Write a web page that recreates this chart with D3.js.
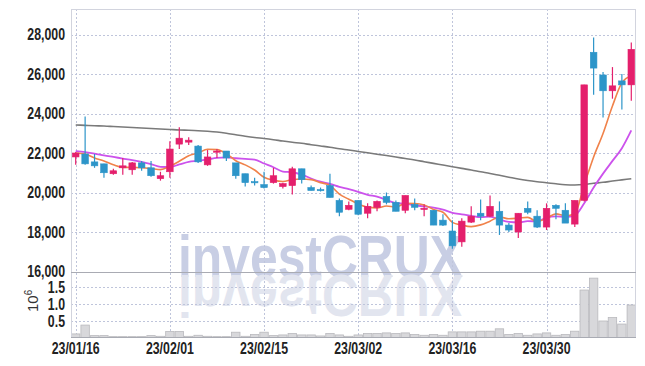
<!DOCTYPE html>
<html>
<head>
<meta charset="utf-8">
<script src="https://cdn.jsdelivr.net/npm/d3@7"></script>
<style>
  body { margin: 0; background: #fff; }
</style>
</head>
<body>
<div class="canvas"></div>
<script>
// trading days shown
const dates = [
  '2023-01-16','2023-01-17','2023-01-18','2023-01-19','2023-01-20','2023-01-25','2023-01-26','2023-01-27','2023-01-30','2023-01-31',
  '2023-02-01','2023-02-02','2023-02-03','2023-02-06','2023-02-07','2023-02-08','2023-02-09','2023-02-10','2023-02-13','2023-02-14',
  '2023-02-15','2023-02-16','2023-02-17','2023-02-20','2023-02-21','2023-02-22','2023-02-23','2023-02-24','2023-02-27','2023-02-28',
  '2023-03-02','2023-03-03','2023-03-06','2023-03-07','2023-03-08','2023-03-09','2023-03-10','2023-03-13','2023-03-14','2023-03-15',
  '2023-03-16','2023-03-17','2023-03-20','2023-03-21','2023-03-22','2023-03-23','2023-03-24','2023-03-27','2023-03-28','2023-03-29',
  '2023-03-30','2023-03-31','2023-04-03','2023-04-04','2023-04-05','2023-04-06','2023-04-07','2023-04-10','2023-04-11','2023-04-12'
];

const open = [21800,21950,21550,21450,20950,21250,21150,21500,21250,20700,
  21050,22450,22550,22350,21400,22050,22100,21500,20950,20550,
  20400,20500,20300,20350,21200,20250,20150,20350,19600,19150,
  19600,18950,19250,19800,19500,19100,19400,19150,19100,18600,
  18050,17500,18500,18950,18800,19050,18350,18000,19200,18800,
  18250,19350,19100,18400,19600,27100,25950,25150,25650,25450];
const high = [22050,23850,21950,21450,21200,21750,21550,21600,21600,21050,
  22600,23300,22800,22400,22150,22200,22100,21500,20950,20750,
  21050,21250,20500,21300,21200,20350,20250,20950,19700,19550,
  19600,19450,19600,20000,19600,19850,19700,19400,19100,18900,
  18600,18700,19300,19650,19850,19550,18450,18950,19550,19100,
  19450,19400,19450,19600,25450,27850,26100,26350,26000,27600];
const low = [21400,21400,21250,20750,20900,20900,20900,21100,20800,20600,
  20750,22200,22400,21500,21350,21750,21600,20700,20300,20350,
  20200,20450,20200,19900,20450,20100,20050,19750,18800,19100,
  18850,18700,19050,19400,19050,18950,19100,18800,18350,18300,
  17150,17250,18450,18600,18750,17850,18000,17700,18900,18200,
  18100,18650,18450,18250,19550,24950,23800,24750,24200,24650];
const close = [22000,21450,21350,21000,21100,21350,21500,21250,20850,20850,
  22200,22750,22650,21550,21800,22100,21750,20850,20500,20500,
  20250,20850,20450,21200,20650,20100,20100,19750,19000,19350,
  18900,19300,19550,19500,19050,19850,19250,19200,18350,18350,
  17300,18550,18800,18800,19300,18350,18100,18950,19000,18250,
  19200,19200,18450,19600,25450,26300,25150,25400,25450,27250];

// volume, millions of shares
const volume = [0.12,0.38,0.07,0.07,0.04,0.04,0.04,0.04,0.07,0.05,
  0.19,0.19,0.05,0.08,0.05,0.04,0.04,0.17,0.05,0.10,
  0.17,0.07,0.09,0.13,0.09,0.09,0.06,0.13,0.09,0.05,
  0.09,0.13,0.13,0.15,0.13,0.15,0.10,0.08,0.10,0.08,
  0.18,0.18,0.18,0.20,0.20,0.27,0.10,0.13,0.08,0.12,
  0.15,0.08,0.10,0.20,1.41,1.76,0.50,0.60,0.41,0.97];

// moving averages
const ma5 = [22000,21950,21750,21600,21400,21270,21270,21250,21210,21160,
  21330,21580,21860,22000,22190,22170,21970,21610,21400,21140,
  20770,20620,20560,20650,20680,20650,20500,20360,19920,19660,
  19420,19260,19220,19320,19260,19450,19440,19370,19140,19000,
  18490,18350,18270,18360,18550,18760,18670,18700,18740,18530,
  18700,18920,18820,18940,20380,21800,22990,24380,25550,25910];
const ma10 = [22090,22040,21970,21880,21800,21720,21640,21550,21440,21300,
  21290,21420,21550,21605,21675,21750,21775,21735,21700,21665,
  21470,21280,21060,21025,20910,20710,20545,20435,20285,20170,
  20035,19880,19790,19620,19460,19435,19350,19295,19230,19130,
  18970,18895,18820,18750,18775,18625,18510,18485,18550,18540,
  18730,18795,18760,18840,19455,20250,20955,21600,22245,23145];
const ma60 = [23420,23400,23380,23365,23340,23315,23290,23265,23240,23215,
  23190,23165,23150,23130,23100,23060,23000,22925,22850,22785,
  22735,22675,22605,22545,22490,22420,22355,22290,22215,22150,
  22080,22010,21940,21870,21795,21720,21645,21560,21475,21390,
  21305,21220,21140,21050,20965,20870,20775,20680,20605,20545,
  20495,20440,20395,20380,20405,20465,20515,20580,20640,20700];

const tickDates = ['2023-01-16','2023-02-01','2023-02-15','2023-03-02','2023-03-16','2023-03-30'];
const priceTicks = [16000,18000,20000,22000,24000,26000,28000];
const volTicks = [0.5,1.0,1.5];

const upColor = '#e41f6c';
const downColor = '#2d95c9';
const gridColor = '#bfc5db';
const labelFont = '"Liberation Sans", Arial, sans-serif';

const svg = d3.select('.canvas')
  .append('svg')
    .attr('width',645)
    .attr('height',366);

const plotLeft = 71, plotRight = 636, plotTop = 9, split = 272, plotBottom = 337;

const x = d3.scaleBand()
  .domain(dates)
  .range([plotLeft,plotRight])
  .padding(0);
const bw = x.bandwidth();
const cx = d => x(d) + bw/2;

const y = d3.scaleLinear()
  .domain([16000,28000])
  .range([271.5,34.5]);

const yv = d3.scaleLinear()
  .domain([0,1.94])
  .range([338,split]);

// watermark with its reflection
const wm = svg.append('g')
  .attr('font-family',labelFont)
  .attr('font-size',60)
  .attr('font-weight','bold');
wm.append('text')
  .attr('x',178).attr('y',277)
  .attr('textLength',285).attr('lengthAdjust','spacingAndGlyphs')
  .attr('fill','#c8cee4')
  .text('investCRUX');
wm.append('text')
  .attr('x',178).attr('y',277)
  .attr('transform','translate(0,552) scale(1,-1)')
  .attr('textLength',285).attr('lengthAdjust','spacingAndGlyphs')
  .attr('fill','#e2e5ef')
  .text('investCRUX');

// grid
const grid = svg.append('g')
  .attr('stroke',gridColor)
  .attr('stroke-dasharray','2,2');
grid.selectAll('.hp')
  .data(priceTicks.filter(t => t > 16000))
  .enter().append('line')
    .attr('x1',plotLeft).attr('x2',plotRight)
    .attr('y1',d => Math.round(y(d)) + 0.5)
    .attr('y2',d => Math.round(y(d)) + 0.5);
grid.selectAll('.hv')
  .data(volTicks)
  .enter().append('line')
    .attr('x1',plotLeft).attr('x2',plotRight)
    .attr('y1',d => Math.round(yv(d)) + 0.5)
    .attr('y2',d => Math.round(yv(d)) + 0.5);
grid.selectAll('.vx')
  .data(tickDates)
  .enter().append('line')
    .attr('x1',d => Math.round(cx(d)) + 0.5)
    .attr('x2',d => Math.round(cx(d)) + 0.5)
    .attr('y1',plotTop).attr('y2',plotBottom);

// volume bars
svg.append('clipPath').attr('id','vclip')
  .append('rect').attr('x',plotLeft).attr('y',split).attr('width',plotRight-plotLeft).attr('height',plotBottom-split);
svg.append('g')
  .attr('clip-path','url(#vclip)')
  .selectAll('rect')
  .data(volume)
  .enter().append('rect')
    .attr('x',(d,i) => x(dates[i]) + 0.5)
    .attr('width',bw - 1)
    .attr('y',d => yv(d))
    .attr('height',d => yv(0) - yv(d))
    .attr('fill','#d8d8db')
    .attr('stroke','#b9b9bd')
    .attr('stroke-width',0.8);

// frame
const frame = svg.append('g').attr('fill','none');
frame.append('rect')
  .attr('x',plotLeft + 0.5).attr('y',plotTop + 0.5)
  .attr('width',plotRight-plotLeft-1).attr('height',plotBottom-plotTop)
  .attr('stroke','#d2d4de');
frame.append('line')
  .attr('x1',plotLeft).attr('x2',plotRight)
  .attr('y1',split + 0.5).attr('y2',split + 0.5)
  .attr('stroke','#a9abb3');
frame.append('line')
  .attr('x1',plotLeft).attr('x2',plotRight)
  .attr('y1',plotBottom + 0.5).attr('y2',plotBottom + 0.5)
  .attr('stroke','#a9abb3');

// moving average lines
const maLine = d3.line()
  .x((d,i) => cx(dates[i]))
  .y(d => y(d))
  .curve(d3.curveMonotoneX);
[[ma60,'#7a7a7a',1.6],[ma10,'#cc52ec',1.8],[ma5,'#f0824a',1.6]].forEach(([vals,col,w]) => {
  svg.append('path')
    .attr('d',maLine(vals))
    .attr('fill','none')
    .attr('stroke',col)
    .attr('stroke-width',w);
});

// candles
const idx = d3.range(dates.length);
const colorOf = i => close[i] >= open[i] ? upColor : downColor;
const candles = svg.append('g');
candles.selectAll('line')
  .data(idx)
  .enter().append('line')
    .attr('x1',i => cx(dates[i])).attr('x2',i => cx(dates[i]))
    .attr('y1',i => y(high[i])).attr('y2',i => y(low[i]))
    .attr('stroke',colorOf)
    .attr('stroke-width',1.2);
candles.selectAll('rect')
  .data(idx)
  .enter().append('rect')
    .attr('x',i => cx(dates[i]) - 3.3)
    .attr('width',6.6)
    .attr('y',i => y(Math.max(open[i],close[i])))
    .attr('height',i => Math.max(1.2, Math.abs(y(open[i]) - y(close[i]))))
    .attr('fill',colorOf)
    .attr('stroke',colorOf)
    .attr('stroke-width',0.6);

// axes
const yAxis = d3.axisLeft(y)
  .tickValues(priceTicks)
  .tickFormat(d3.format(','))
  .tickSize(0)
  .tickPadding(6);
const yg = svg.append('g')
  .attr('transform',`translate(${plotLeft},0)`)
  .call(yAxis);

const vAxis = d3.axisLeft(yv)
  .tickValues(volTicks)
  .tickFormat(d3.format('.1f'))
  .tickSize(0)
  .tickPadding(6);
const vg = svg.append('g')
  .attr('transform',`translate(${plotLeft},0)`)
  .call(vAxis);

const fmt = d3.timeFormat('%y/%m/%d');
const parse = d3.timeParse('%Y-%m-%d');
const xAxis = d3.axisBottom(x)
  .tickValues(tickDates)
  .tickFormat(d => fmt(parse(d)))
  .tickSize(0)
  .tickPadding(6);
const xg = svg.append('g')
  .attr('transform',`translate(0,${plotBottom})`)
  .call(xAxis);

// condensed look for tick labels
[yg,vg,xg].forEach(g => {
  g.select('.domain').remove();
  g.attr('font-family',labelFont).attr('font-size',16);
  g.selectAll('text')
    .attr('font-weight','bold')
    .attr('fill','#222')
    .each(function() {
      const w = this.getComputedTextLength();
      d3.select(this)
        .attr('textLength',w * 0.77)
        .attr('lengthAdjust','spacingAndGlyphs');
    });
});

// unit label
const unit = svg.append('text')
  .attr('transform','translate(38,312) rotate(-90)')
  .attr('font-size',15)
  .attr('fill','#333')
  .attr('font-family',labelFont);
unit.append('tspan').text('10');
unit.append('tspan').attr('dy',-6).attr('font-size',10).text('6');
</script>
</body>
</html>
